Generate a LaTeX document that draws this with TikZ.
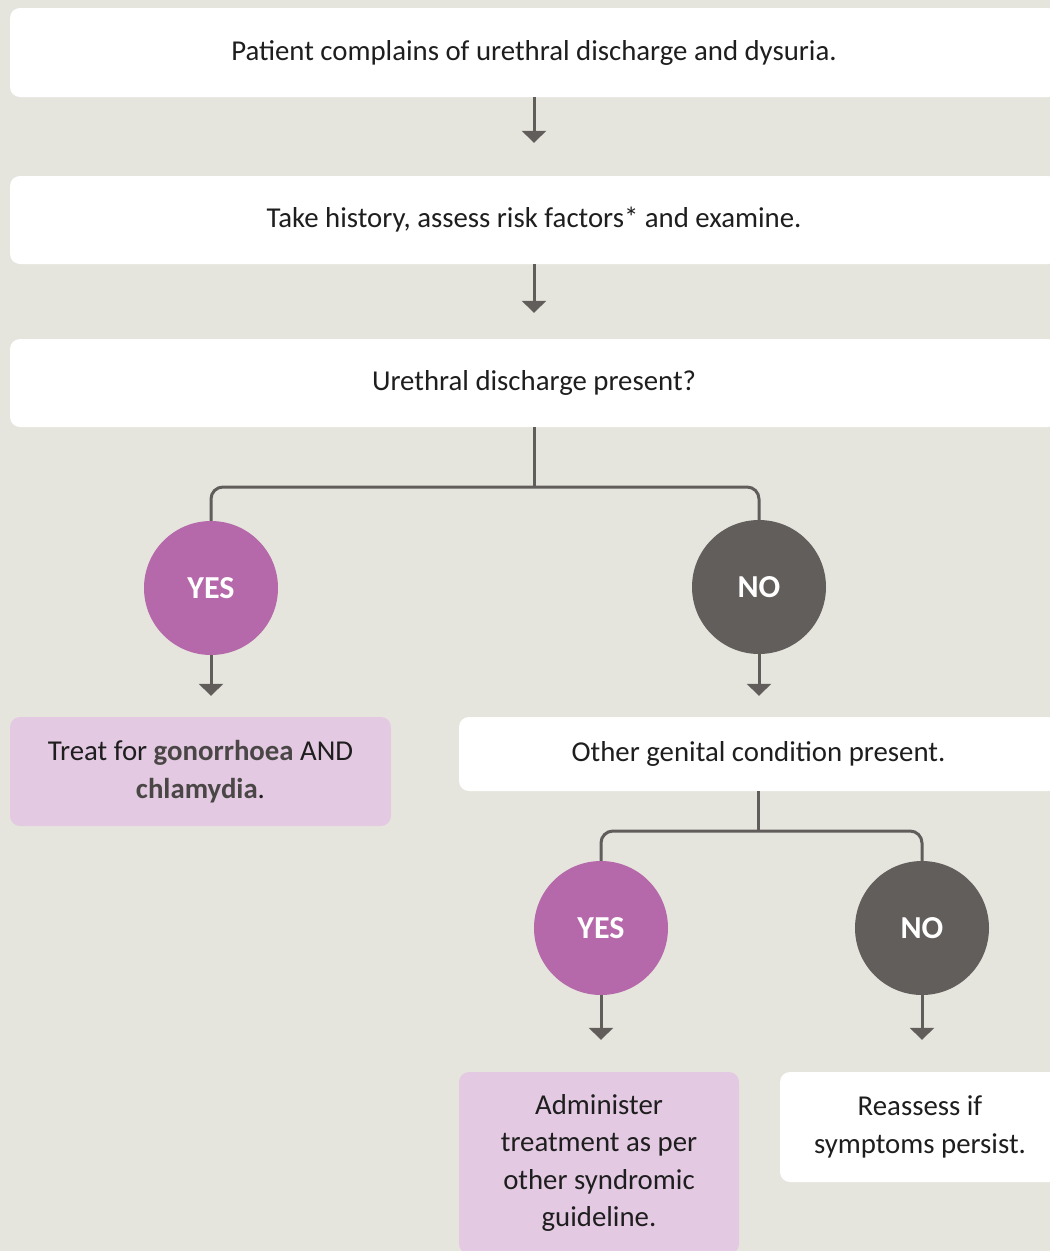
\documentclass[tikz,border=0pt]{standalone}
\usepackage{fontspec}
\setmainfont{Carlito}
\usetikzlibrary{arrows.meta}
\definecolor{paper}{HTML}{E6E5DD}
\definecolor{yesfill}{HTML}{B569AA}
\definecolor{nofill}{HTML}{625E5B}
\definecolor{lilac}{HTML}{E3C9E2}
\definecolor{wire}{HTML}{605D5B}
\definecolor{ink}{HTML}{1E1E1E}
\definecolor{boldink}{HTML}{4A4646}
\newcommand{\hl}[1]{\textbf{\color{boldink}#1}}

\begin{document}
\begin{tikzpicture}[
    x=1pt, y=-1pt,
    box/.style={
        rectangle,
        rounded corners=10pt,  % soft corners on every box
        fill=white,
        text=ink,
        align=center,
        inner sep=0pt,
        font=\fontsize{28.8}{37.5}\selectfont
    },
    pinkbox/.style={box, fill=lilac},
    answer/.style={
        circle,
        minimum size=134pt,    % both answer discs are the same size
        inner sep=0pt,
        text=white,
        font=\fontsize{32}{38}\selectfont\bfseries
    },
    yesdot/.style={answer, fill=yesfill},
    nodot/.style={answer, fill=nofill},
    link/.style={draw=wire, line width=3pt},
    arr/.style={link, -{Triangle[width=24pt,length=12pt]}}
]
\useasboundingbox (0,0) rectangle (1050,1251);
\clip (0,0) rectangle (1050,1251);
\fill[paper] (0,0) rectangle (1050,1251);

% question boxes, cut off by the right edge
\node[box, minimum width=1048pt, minimum height=89pt] (complain) at (534,52.5)
    {Patient complains of urethral discharge and dysuria.};
\node[box, minimum width=1048pt, minimum height=88pt] (history) at (534,220)
    {Take history, assess risk factors* and examine.};
\node[box, minimum width=1048pt, minimum height=88pt] (discharge) at (534,383)
    {Urethral discharge present?};

\node[yesdot] (yes1) at (211,588) {YES};
\node[nodot]  (no1)  at (759,587) {NO};

\node[pinkbox, minimum width=381pt, minimum height=109pt] (treatgc) at (200.5,771.5)
    {Treat for \hl{gonorrhoea} AND\\ \hl{chlamydia}.};
\node[box, minimum width=599pt, minimum height=74pt] (other) at (758.5,754)
    {Other genital condition present.};

\node[yesdot] (yes2) at (601,928) {YES};
\node[nodot]  (no2)  at (922,928) {NO};

\node[pinkbox, minimum width=280pt, minimum height=182pt] (admin) at (599,1163)
    {Administer\\ treatment as per\\ other syndromic\\ guideline.};
\node[box, minimum width=280pt, minimum height=110pt] (reassess) at (920,1127)
    {Reassess if\\ symptoms persist.};

\coordinate (split1) at (534,487);
\coordinate (split2) at (758.5,831);

% connectors
\draw[arr, shorten >=33pt] (complain.south) -- (history.north);
\draw[arr, shorten >=26pt] (history.south) -- (discharge.north);
\draw[link] (discharge.south) -- (split1);
\draw[link, rounded corners=12pt] (yes1.north) |- (split1) -| (no1.north);
\draw[arr, shorten >=21pt] (yes1.south) -- (yes1.south |- treatgc.north);
\draw[arr, shorten >=21pt] (no1.south) -- (no1.south |- other.north);
\draw[link] (other.south) -- (split2);
\draw[link, rounded corners=12pt] (yes2.north) |- (split2) -| (no2.north);
\draw[arr, shorten >=32pt] (yes2.south) -- (yes2.south |- admin.north);
\draw[arr, shorten >=32pt] (no2.south) -- (no2.south |- reassess.north);
\end{tikzpicture}
\end{document}
